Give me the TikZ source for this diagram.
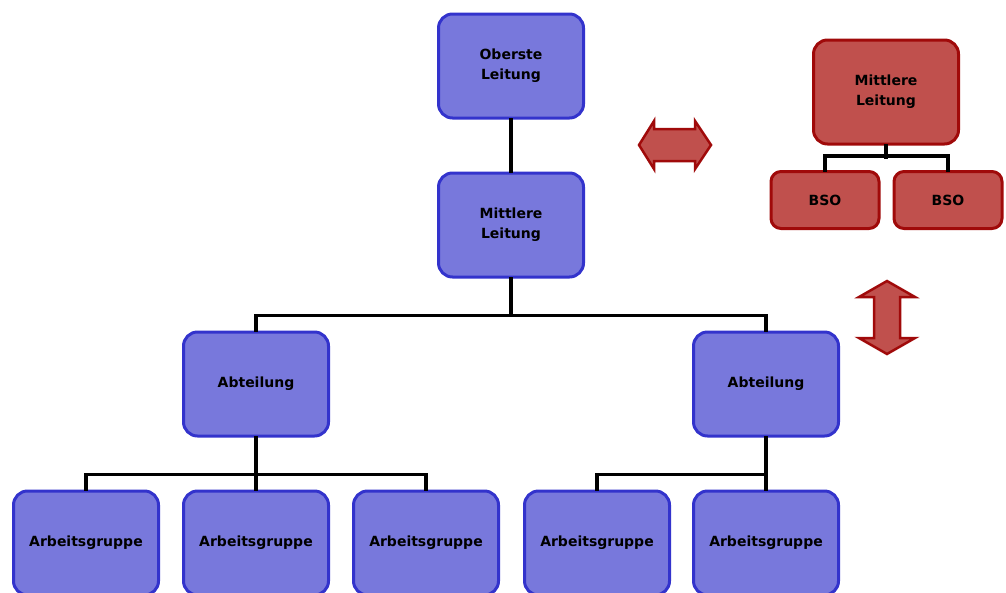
\documentclass[tikz,border=0pt]{standalone}
\usepackage{fontspec}
\setmainfont{DejaVu Sans}
\definecolor{boxblue}{RGB}{120,120,220}
\definecolor{lineblue}{RGB}{51,51,204}
\definecolor{boxred}{RGB}{192,80,77}
\definecolor{linered}{RGB}{160,10,10}
\tikzset{
	unit/.style={draw=lineblue, fill=boxblue, line width=3pt, rounded corners=14pt,
		minimum width=145pt, minimum height=104pt, align=center, inner sep=0pt,
		font=\bfseries\fontsize{14}{20}\selectfont},
	redunit/.style={unit, draw=linered, fill=boxred},
	bso/.style={redunit, minimum width=108pt, minimum height=57pt, rounded corners=10pt},
	conn/.style={line width=3.5pt, black},
	twoway/.style={draw=linered, fill=boxred, line width=2.5pt, line join=miter},
}
\begin{document}
\begin{tikzpicture}[x=1pt, y=-1pt, line cap=rect]
	\useasboundingbox (0,0) rectangle (1006,592);
	\clip (0,0) rectangle (1006,592);
	% main hierarchy
	\node[unit] (ol) at (511,66) {Oberste\\Leitung};
	\node[unit] (ml) at (511,225) {Mittlere\\Leitung};
	\node[unit] (abtL) at (256,384) {Abteilung};
	\node[unit] (abtR) at (766,384) {Abteilung};
	\foreach\x/\n in {86/g1,256/g2,426/g3,597/g4,766/g5}{\node[unit] (\n) at (\x,543) {Arbeitsgruppe};}
	\draw[conn] (ol.south)--(ml.north);
	\draw[conn] (ml.south)--++(0,37);
	\draw[conn] (abtL.north)--++(0,-15) -| (abtR.north);
	\draw[conn] (abtL.south)--(g2.north) (g1.north)--++(0,-15) -| (g3.north);
	\draw[conn] (abtR.south)--(g5.north) (g4.north)--++(0,-15) -| (g5.north);
	% side branch
	\node[redunit] (rm) at (886,92) {Mittlere\\Leitung};
	\node[bso] (b1) at (825,200) {BSO};
	\node[bso] (b2) at (948,200) {BSO};
	\draw[conn] (rm.south)--++(0,12);
	\draw[conn] (b1.north)--++(0,-14) -| (b2.north);
	% double arrows
	\draw[twoway] (639,145)--(654,121)--(654,129)--(695,129)--(695,121)--(711,145)
		--(695,169)--(695,161)--(654,161)--(654,169)--cycle;
	\draw[twoway] (887,281)--(915,297)--(900,297)--(900,338)--(915,338)--(887,354)
		--(859,338)--(874,338)--(874,297)--(859,297)--cycle;
\end{tikzpicture}
\end{document}
